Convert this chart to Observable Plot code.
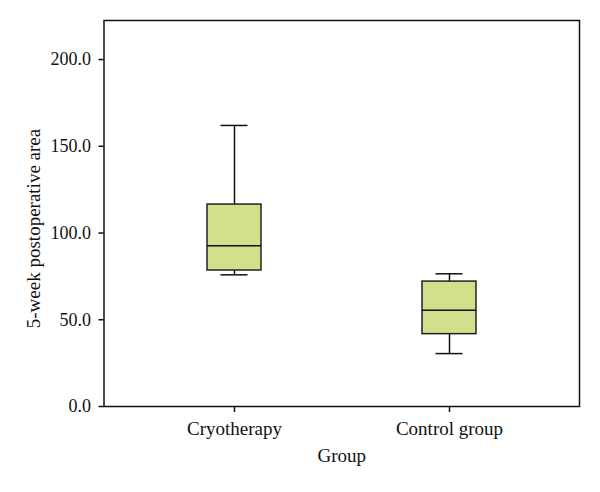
<!DOCTYPE html>
<html><head><meta charset="utf-8">
<script src="https://cdn.jsdelivr.net/npm/d3@7"></script>
<script src="https://cdn.jsdelivr.net/npm/@observablehq/plot@0.6"></script>
<style>body{margin:0;background:#fff}</style>
</head><body><div id="chart"></div>
<script>
const groups = ["Cryotherapy", "Control group"];
const whiskerLow = [75.9, 30.5];
const q1 = [78.4, 41.7];
const median = [92.6, 55.5];
const q3 = [116.4, 72.0];
const whiskerHigh = [162.0, 76.5];
const yTicks = [0, 50, 100, 150, 200];
const xLabel = "Group";
const yLabel = "5-week postoperative area";

const data = groups.map((g, i) => ({group: g, lo: whiskerLow[i], q1: q1[i], med: median[i], q3: q3[i], hi: whiskerHigh[i]}));
const font = "'Liberation Serif', 'DejaVu Serif', serif";
const ink = "#111";

const chart = Plot.plot({
  width: 600, height: 492,
  marginLeft: 103.5, marginRight: 21, marginTop: 20, marginBottom: 86,
  style: {fontFamily: font, fontSize: "18px", color: ink, background: "#fff"},
  x: {type: "band", domain: groups, paddingInner: 0.749, paddingOuter: 0.48, axis: null},
  y: {domain: [0, 222.5], axis: null},
  marks: [
    Plot.frame({stroke: ink, strokeWidth: 1.5}),
    Plot.axisY({ticks: yTicks, tickFormat: d => d.toFixed(1), tickSize: 5, tickPadding: 8, label: null, fontSize: 18, stroke: ink, fill: ink, strokeWidth: 1.5}),
    Plot.axisX({tickSize: 6, tickPadding: 9, label: null, fontSize: 19, stroke: ink, fill: ink, strokeWidth: 1.5}),
    Plot.ruleX(data, {x: "group", y1: "q3", y2: "hi", stroke: ink, strokeWidth: 1.5}),
    Plot.ruleX(data, {x: "group", y1: "lo", y2: "q1", stroke: ink, strokeWidth: 1.5}),
    Plot.tickY(data, {x: "group", y: "hi", insetLeft: 13.5, insetRight: 13.5, stroke: ink, strokeWidth: 1.5}),
    Plot.tickY(data, {x: "group", y: "lo", insetLeft: 13.5, insetRight: 13.5, stroke: ink, strokeWidth: 1.5}),
    Plot.barY(data, {x: "group", y1: "q1", y2: "q3", fill: "#d3df8a", stroke: "#222", strokeWidth: 1.5}),
    Plot.tickY(data, {x: "group", y: "med", stroke: ink, strokeWidth: 1.5}),
    Plot.text([xLabel], {text: d => d, frameAnchor: "bottom", dy: 55, fontSize: 19, fill: ink}),
    Plot.text([yLabel], {text: d => d, frameAnchor: "left", textAnchor: "middle", dx: -70, dy: 15, rotate: -90, fontSize: 19, fill: ink})
  ]
});
document.getElementById("chart").appendChild(chart);
</script>
</body></html>
